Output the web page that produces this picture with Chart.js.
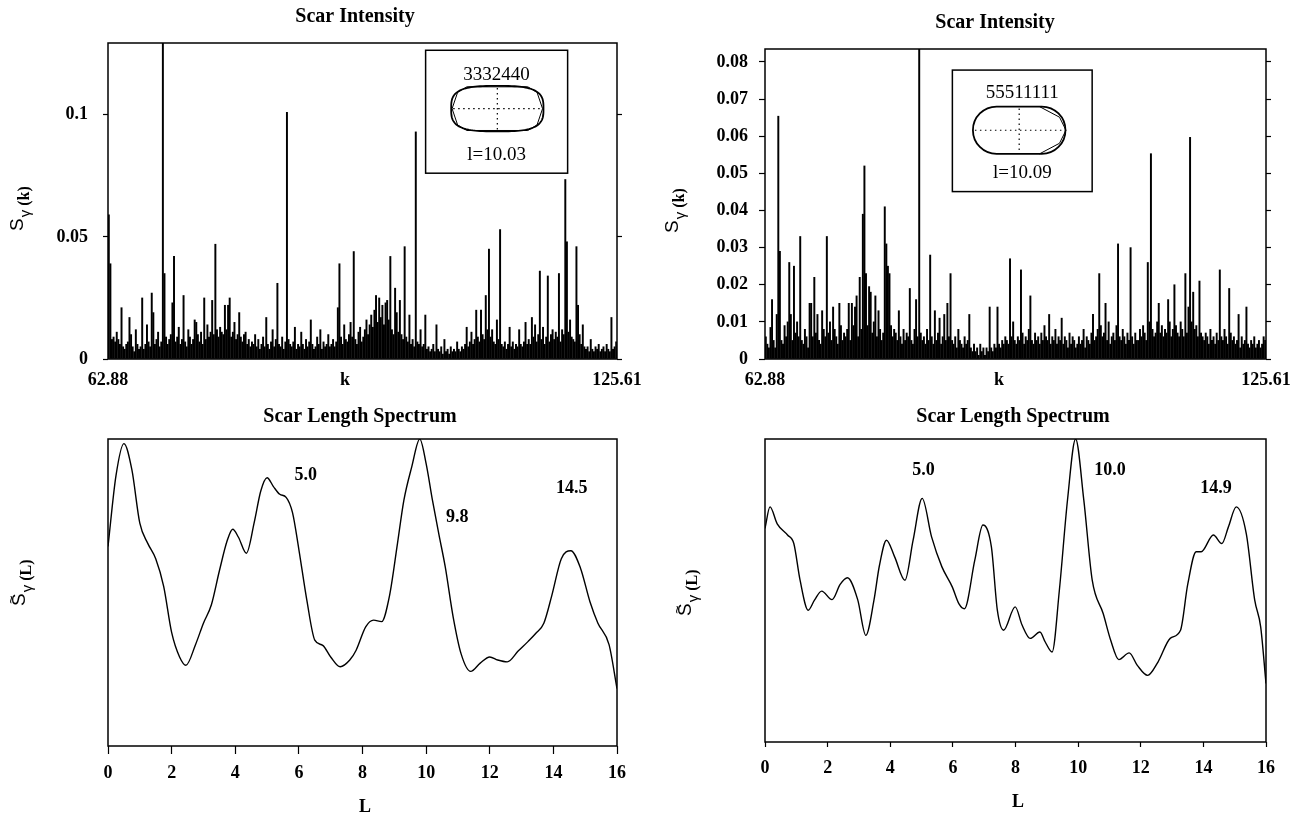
<!DOCTYPE html>
<html><head><meta charset="utf-8">
<script src="https://cdn.jsdelivr.net/npm/chart.js@4.4.1/dist/chart.umd.min.js"></script>
<style>
html,body{margin:0;padding:0;background:#fff;}
body{width:1291px;height:819px;position:relative;overflow:hidden;}
canvas{position:absolute;}
</style></head><body>
<canvas id="tl" width="645" height="400" style="left:0;top:0"></canvas>
<canvas id="tr" width="646" height="400" style="left:645px;top:0"></canvas>
<canvas id="bl" width="645" height="419" style="left:0;top:400px"></canvas>
<canvas id="br" width="646" height="419" style="left:645px;top:400px"></canvas>
<script>
// ---------- data ----------
const kMin = 62.88, kMax = 125.61;
const kTickLabels = ['62.88', '125.61'];

// Scar intensity S_gamma(k) on an even k grid, billiard 3332440
const intensityA = [
.059,.039,.008,.009,.007,.011,.008,.006,.021,.005,.004,.006,.007,.017,.010,.005,.003,.012,.006,.004,
.005,.025,.004,.006,.014,.007,.005,.027,.019,.006,.008,.011,.005,.007,.30,.035,.009,.006,.008,.010,
.023,.042,.007,.009,.013,.006,.008,.026,.007,.005,.012,.009,.006,.008,.016,.015,.010,.007,.011,.006,
.025,.008,.014,.009,.011,.024,.010,.047,.012,.009,.013,.011,.010,.022,.012,.022,.025,.009,.011,.015,
.008,.010,.019,.009,.007,.010,.011,.006,.008,.005,.007,.006,.010,.005,.008,.004,.006,.009,.005,.017,
.006,.004,.007,.012,.005,.008,.031,.006,.005,.009,.004,.007,.101,.008,.006,.005,.007,.013,.004,.006,
.005,.011,.006,.004,.008,.005,.007,.016,.006,.004,.005,.009,.006,.012,.004,.007,.005,.006,.010,.005,
.006,.008,.005,.007,.021,.039,.009,.006,.014,.008,.007,.010,.015,.009,.044,.008,.006,.011,.013,.007,
.009,.012,.016,.010,.014,.018,.013,.020,.026,.015,.025,.017,.022,.014,.023,.024,.016,.042,.012,.010,
.029,.019,.011,.024,.010,.008,.046,.009,.007,.018,.006,.008,.005,.093,.007,.006,.012,.005,.006,.018,
.004,.005,.003,.004,.006,.003,.014,.004,.003,.005,.002,.008,.003,.004,.002,.005,.003,.004,.003,.007,
.004,.003,.005,.004,.006,.013,.005,.007,.011,.006,.008,.020,.009,.007,.020,.010,.008,.026,.012,.045,
.009,.012,.007,.006,.016,.008,.053,.006,.005,.007,.004,.006,.013,.005,.007,.004,.006,.005,.012,.006,
.005,.007,.015,.006,.008,.006,.017,.009,.014,.007,.010,.036,.008,.013,.006,.009,.034,.007,.010,.012,
.008,.011,.009,.035,.007,.012,.010,.0735,.048,.011,.016,.009,.008,.007,.046,.022,.010,.006,.014,.005,
.004,.005,.003,.008,.004,.003,.005,.004,.006,.003,.004,.005,.003,.006,.004,.003,.017,.004,.005,.007
];
// Scar intensity, billiard 55511111
const intensityB = [
.006,.004,.003,.0085,.016,.005,.003,.012,.0654,.029,.005,.004,.009,.006,.010,.026,.012,.005,.025,.007,
.010,.006,.033,.005,.004,.008,.006,.003,.015,.015,.006,.022,.007,.012,.005,.004,.013,.008,.006,.033,
.007,.010,.005,.014,.008,.006,.004,.015,.009,.005,.007,.006,.008,.015,.005,.015,.009,.014,.017,.006,
.022,.008,.039,.052,.023,.009,.0195,.018,.007,.010,.017,.006,.013,.008,.005,.007,.041,.031,.025,.023,
.009,.006,.008,.007,.005,.013,.006,.004,.008,.005,.007,.006,.019,.005,.004,.008,.016,.006,.20,.007,
.005,.006,.004,.008,.005,.028,.006,.004,.013,.005,.007,.011,.004,.006,.012,.005,.015,.006,.023,.005,
.004,.006,.003,.008,.005,.004,.003,.006,.004,.005,.012,.003,.002,.004,.002,.003,.001,.004,.002,.003,
.001,.003,.002,.014,.003,.002,.004,.003,.014,.004,.003,.005,.004,.006,.005,.004,.027,.006,.010,.005,
.004,.006,.005,.024,.007,.004,.006,.005,.008,.017,.005,.004,.007,.005,.006,.004,.007,.005,.009,.006,
.005,.012,.004,.006,.005,.008,.004,.006,.005,.011,.004,.006,.005,.003,.007,.004,.006,.005,.003,.004,
.006,.004,.005,.008,.003,.006,.005,.004,.007,.012,.005,.006,.008,.023,.009,.006,.007,.015,.005,.010,
.004,.006,.007,.005,.009,.031,.006,.005,.008,.006,.004,.007,.005,.030,.006,.004,.007,.005,.005,.008,
.006,.009,.007,.005,.026,.010,.0553,.008,.006,.007,.010,.015,.007,.009,.006,.008,.007,.016,.010,.006,
.008,.020,.009,.007,.006,.010,.008,.006,.023,.007,.014,.0597,.010,.018,.008,.009,.006,.021,.007,.006,
.005,.007,.006,.004,.008,.005,.006,.004,.007,.005,.024,.006,.005,.008,.006,.004,.019,.007,.005,.006,
.004,.005,.012,.003,.006,.004,.005,.014,.004,.003,.005,.004,.006,.003,.004,.005,.003,.004,.006,.005
];
const yTicksA = [0, 0.05, 0.1];
const yTicksB = [0, 0.01, 0.02, 0.03, 0.04, 0.05, 0.06, 0.07, 0.08];
const yMaxA = 0.1294, yMaxB = 0.0835;

// Scar length spectrum (normalised), billiard 3332440
const lengthA = [0,0.25,0.5,0.75,1.0,1.25,1.5,1.75,2.0,2.25,2.45,2.75,3.0,3.25,3.5,3.75,3.92,4.1,4.35,4.6,4.8,5.0,5.2,5.4,5.6,5.8,6.0,6.25,6.5,6.75,7.0,7.3,7.6,7.8,8.1,8.35,8.6,8.85,9.1,9.3,9.55,9.8,10.0,10.2,10.4,10.6,10.85,11.1,11.4,11.7,12.0,12.25,12.55,12.9,13.2,13.45,13.7,13.95,14.25,14.55,14.85,15.15,15.4,15.75,16.0];
const spectrumA = [0.65,0.88,0.985,0.90,0.726,0.66,0.61,0.52,0.37,0.29,0.263,0.33,0.40,0.46,0.57,0.67,0.706,0.68,0.628,0.73,0.83,0.874,0.845,0.82,0.81,0.76,0.64,0.475,0.345,0.328,0.29,0.258,0.28,0.312,0.388,0.41,0.405,0.49,0.66,0.80,0.91,1.0,0.92,0.80,0.69,0.584,0.42,0.30,0.243,0.27,0.29,0.28,0.274,0.31,0.34,0.367,0.40,0.49,0.61,0.636,0.58,0.47,0.40,0.33,0.187];
// Scar length spectrum (normalised), billiard 55511111
const lengthB = [0,0.16,0.39,0.72,0.92,1.12,1.38,1.58,1.81,2.14,2.4,2.63,2.96,3.22,3.48,3.65,3.88,4.14,4.47,4.73,5.02,5.32,5.65,5.98,6.2,6.37,6.7,6.96,7.23,7.42,7.62,7.99,8.21,8.47,8.78,8.95,9.17,9.4,9.66,9.92,10.18,10.45,10.8,11.04,11.3,11.63,11.89,12.22,12.55,12.94,13.27,13.5,13.77,13.93,14.32,14.59,14.8,15.05,15.37,15.64,15.83,16.0];
const spectrumB = [0.705,0.776,0.72,0.683,0.655,0.534,0.435,0.468,0.498,0.47,0.52,0.542,0.47,0.352,0.468,0.58,0.666,0.611,0.534,0.666,0.804,0.677,0.578,0.512,0.455,0.44,0.60,0.716,0.644,0.435,0.369,0.446,0.386,0.342,0.363,0.33,0.297,0.50,0.798,1.0,0.80,0.534,0.424,0.336,0.272,0.294,0.253,0.22,0.264,0.342,0.369,0.52,0.628,0.628,0.683,0.655,0.71,0.776,0.688,0.468,0.38,0.193];
const lTicks = [0, 2, 4, 6, 8, 10, 12, 14, 16];

const peakTextA = ['5.0', '9.8', '14.5'];
const peakAtA = [[6.22, 0.883], [10.98, 0.745], [14.58, 0.839]];
const peakTextB = ['5.0', '10.0', '14.9'];
const peakAtB = [[5.06, 0.895], [11.02, 0.895], [14.4, 0.837]];

// ---------- styling / drawing ----------
const SERIF = "'Liberation Serif','Times New Roman',serif";
const SANS = "'Liberation Sans',Arial,sans-serif";
const tickFont = {family: SERIF, size: 18, weight: 'bold'};

function drawYTitle(ctx, t) {
  ctx.save();
  ctx.translate(t.x, t.y);
  ctx.rotate(-Math.PI / 2);
  ctx.textAlign = 'left';
  ctx.textBaseline = 'alphabetic';
  let u = 0;
  t.parts.forEach(p => {
    ctx.font = p.font;
    u += p.du || 0;
    ctx.fillText(p.text, u, p.dv || 0);
    const w = ctx.measureText(p.text).width;
    if (p.tilde) {
      ctx.font = '15px ' + SANS;
      ctx.textAlign = 'center';
      ctx.fillText('~', u + w / 2, -9);
      ctx.textAlign = 'left';
    }
    u += w;
  });
  ctx.restore();
}

function drawInset(ctx, a, s) {
  const W = a.right - a.left, H = a.bottom - a.top;
  const x0 = a.left + s.box[0] * W, x1 = a.left + s.box[2] * W;
  const y0 = a.top + s.box[1] * H, y1 = a.top + s.box[3] * H;
  const bw = x1 - x0, bh = y1 - y0;
  ctx.save();
  ctx.lineWidth = 1.5;
  ctx.strokeStyle = '#000';
  ctx.strokeRect(x0, y0, bw, bh);
  ctx.fillStyle = '#000';
  ctx.textAlign = 'center';
  ctx.textBaseline = 'middle';
  ctx.font = '19px ' + SERIF;
  ctx.fillText(s.code, x0 + bw / 2, y0 + s.codeY * bh);
  ctx.fillText(s.len, x0 + bw / 2, y0 + s.lenY * bh);
  const sx0 = x0 + s.shape[0] * bw, sx1 = x0 + s.shape[2] * bw;
  const sy0 = y0 + s.shape[1] * bh, sy1 = y0 + s.shape[3] * bh;
  const cx = (sx0 + sx1) / 2, cy = (sy0 + sy1) / 2, ra = (sx1 - sx0) / 2, rb = (sy1 - sy0) / 2;
  ctx.lineWidth = 1.8;
  ctx.beginPath();
  if (s.kind === 'A') {
    const n = 3.2;
    for (let i = 0; i <= 120; i++) {
      const th = i / 120 * Math.PI * 2;
      const c = Math.cos(th), sn = Math.sin(th);
      const px = cx + ra * Math.sign(c) * Math.pow(Math.abs(c), 2 / n);
      const py = cy + rb * Math.sign(sn) * Math.pow(Math.abs(sn), 2 / n);
      i ? ctx.lineTo(px, py) : ctx.moveTo(px, py);
    }
    ctx.closePath();
    ctx.stroke();
    ctx.lineWidth = 1;
    ctx.beginPath();
    const poly = [[-0.98,0],[-0.86,-0.72],[-0.66,-0.96],[0.66,-0.96],[0.86,-0.72],[0.98,0],[0.86,0.72],[0.66,0.96],[-0.66,0.96],[-0.86,0.72]];
    poly.forEach((p, i) => { const px = cx + p[0] * ra, py = cy + p[1] * rb; i ? ctx.lineTo(px, py) : ctx.moveTo(px, py); });
    ctx.closePath();
    ctx.stroke();
  } else {
    ctx.roundRect(sx0, sy0, sx1 - sx0, sy1 - sy0, rb);
    ctx.stroke();
    ctx.lineWidth = 1;
    ctx.beginPath();
    ctx.moveTo(sx1 - rb * 1.1, sy0);
    ctx.lineTo(sx1 - rb * 0.25, cy - rb * 0.55);
    ctx.lineTo(sx1 + 0.5, cy);
    ctx.lineTo(sx1 - rb * 0.25, cy + rb * 0.55);
    ctx.lineTo(sx1 - rb * 1.1, sy1);
    ctx.stroke();
  }
  ctx.lineWidth = 1.2;
  ctx.setLineDash([1.5, 3.5]);
  ctx.beginPath();
  ctx.moveTo(sx0 + 2, cy); ctx.lineTo(sx1 - 2, cy);
  ctx.moveTo(cx, sy0 + 2); ctx.lineTo(cx, sy1 - 2);
  ctx.stroke();
  ctx.restore();
}

const deco = {
  id: 'deco',
  afterDraw(chart, args, o) {
    const ctx = chart.ctx, a = chart.chartArea;
    ctx.save();
    ctx.strokeStyle = '#000';
    ctx.fillStyle = '#000';
    ctx.lineWidth = 1.5;
    ctx.strokeRect(a.left, a.top, a.right - a.left, a.bottom - a.top);
    ctx.textAlign = 'center';
    ctx.textBaseline = 'middle';
    if (o.title) { ctx.font = 'bold 20px ' + SERIF; ctx.fillText(o.title.text, o.title.x, o.title.y); }
    if (o.xLabel) { ctx.font = 'bold 18px ' + SERIF; ctx.fillText(o.xLabel.text, o.xLabel.x, o.xLabel.y); }
    if (o.peaks) {
      ctx.font = 'bold 18px ' + SERIF;
      const xs = chart.scales.x, ys = chart.scales.y;
      o.peaks.text.forEach((t, i) => ctx.fillText(t, xs.getPixelForValue(o.peaks.at[i][0]), ys.getPixelForValue(o.peaks.at[i][1])));
    }
    if (o.yTitle) drawYTitle(ctx, o.yTitle);
    if (o.inset) drawInset(ctx, a, o.inset);
    ctx.restore();
  }
};

function kGrid(n) {
  const step = (kMax - kMin) / n;
  return Array.from({length: n}, (_, i) => kMin + (i + 0.5) * step);
}

function spikeChart(id, values, yTicks, yMax, g, extras) {
  const ks = kGrid(values.length);
  const yAxis = (pos) => ({
    type: 'linear', position: pos, min: 0, max: yMax,
    afterBuildTicks: s => { s.ticks = yTicks.map(v => ({value: v})); },
    ticks: {color: '#000', font: tickFont, padding: g.ypad, autoSkip: false,
            callback: v => pos === 'left' ? String(v) : ''},
    grid: {drawOnChartArea: false, drawTicks: true, tickLength: pos === 'left' ? g.tick : 5, tickColor: '#000', tickWidth: 1.2},
    border: {display: false},
    afterFit: s => { s.width = pos === 'left' ? g.left : g.right; }
  });
  return new Chart(document.getElementById(id), {
    type: 'bar',
    data: {datasets: [{
      data: values.map((v, i) => ({x: ks[i], y: v})),
      backgroundColor: '#000', borderWidth: 0, barThickness: 1.3
    }]},
    options: {
      responsive: false, animation: false, devicePixelRatio: 1,
      layout: {padding: {top: g.top, left: 0, right: 0, bottom: 0}, autoPadding: false},
      plugins: {legend: {display: false}, tooltip: {enabled: false}, deco: extras},
      scales: {
        x: {
          type: 'linear', min: kMin, max: kMax, offset: false,
          afterBuildTicks: s => { s.ticks = [{value: kMin}, {value: kMax}]; },
          ticks: {autoSkip: false, maxRotation: 0, color: '#000', font: tickFont, padding: 11,
                  callback: (v, i) => kTickLabels[i]},
          grid: {display: true, offset: false, drawOnChartArea: false, drawTicks: false},
          border: {display: false},
          afterFit: s => { s.height = g.xh; s.paddingLeft = 0; s.paddingRight = 0; }
        },
        y: yAxis('left'),
        y2: yAxis('right')
      }
    },
    plugins: [deco]
  });
}

function specChart(id, Ls, vs, g, extras) {
  return new Chart(document.getElementById(id), {
    type: 'line',
    data: {datasets: [{
      data: Ls.map((L, i) => ({x: L, y: vs[i]})),
      borderColor: '#000', borderWidth: 1.4, pointRadius: 0,
      cubicInterpolationMode: 'monotone', fill: false
    }]},
    options: {
      responsive: false, animation: false, devicePixelRatio: 1,
      layout: {padding: {top: g.top, left: g.left, right: g.right, bottom: 0}, autoPadding: false},
      plugins: {legend: {display: false}, tooltip: {enabled: false}, deco: extras},
      scales: {
        x: {
          type: 'linear', min: 0, max: 16,
          afterBuildTicks: s => { s.ticks = lTicks.map(v => ({value: v})); },
          ticks: {autoSkip: false, maxRotation: 0, color: '#000', font: tickFont, padding: g.xpad},
          grid: {drawOnChartArea: false, drawTicks: true, tickLength: g.tick, tickColor: '#000', tickWidth: 1.2},
          border: {display: false},
          afterFit: s => { s.height = g.xh; s.paddingLeft = 0; s.paddingRight = 0; }
        },
        y: {display: false, min: 0, max: 1}
      }
    },
    plugins: [deco]
  });
}

const sParts = (lab) => [
  {text: 'S', font: '19px ' + SANS, tilde: lab === 'L'},
  {text: 'γ', font: '15px ' + SANS, dv: 7, du: 1},
  {text: '(' + lab + ')', font: 'bold 16px ' + SERIF, dv: 6, du: 4}
];

spikeChart('tl', intensityA, yTicksA, yMaxA,
  {top: 43, left: 108, right: 28, xh: 41, tick: 5, ypad: 15},
  {title: {text: 'Scar Intensity', x: 355, y: 17},
   xLabel: {text: 'k', x: 345, y: 380},
   yTitle: {x: 23, y: 231, parts: sParts('k')},
   inset: {box: [0.624, 0.023, 0.903, 0.412], code: '3332440', len: 'l=10.03', codeY: 0.2, lenY: 0.85,
           shape: [0.18, 0.29, 0.83, 0.66], kind: 'A'}});

spikeChart('tr', intensityB, yTicksB, yMaxB,
  {top: 49, left: 120, right: 25, xh: 41, tick: 6, ypad: 11},
  {title: {text: 'Scar Intensity', x: 350, y: 23},
   xLabel: {text: 'k', x: 354, y: 380},
   yTitle: {x: 33, y: 233, parts: sParts('k')},
   inset: {box: [0.374, 0.068, 0.653, 0.46], code: '55511111', len: 'l=10.09', codeY: 0.19, lenY: 0.85,
           shape: [0.147, 0.30, 0.809, 0.69], kind: 'B'}});

specChart('bl', lengthA, spectrumA,
  {top: 39, left: 108, right: 28, xh: 73, tick: 8, xpad: 9},
  {title: {text: 'Scar Length Spectrum', x: 360, y: 17},
   xLabel: {text: 'L', x: 365, y: 407},
   yTitle: {x: 25, y: 206, parts: sParts('L')},
   peaks: {text: peakTextA, at: peakAtA}});

specChart('br', lengthB, spectrumB,
  {top: 39, left: 120, right: 25, xh: 77, tick: 5, xpad: 11},
  {title: {text: 'Scar Length Spectrum', x: 368, y: 17},
   xLabel: {text: 'L', x: 373, y: 402},
   yTitle: {x: 46, y: 216, parts: sParts('L')},
   peaks: {text: peakTextB, at: peakAtB}});
</script>
</body></html>
